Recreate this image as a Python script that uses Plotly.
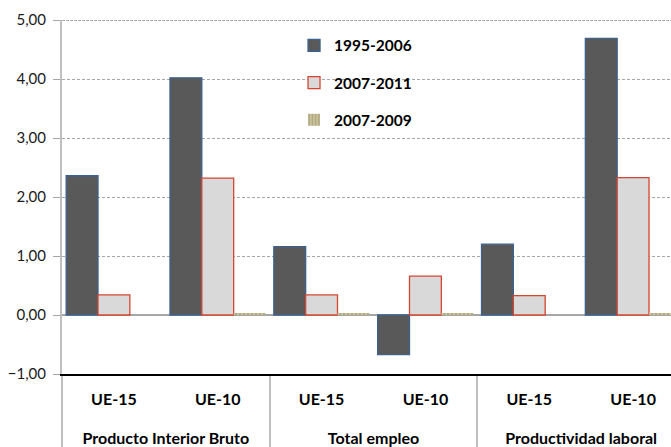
import plotly.graph_objects as go

# Indicator groups and regions (two-level category axis)
groups = ["Producto Interior Bruto", "Producto Interior Bruto",
          "Total empleo", "Total empleo",
          "Productividad laboral", "Productividad laboral"]
regions = ["UE-15", "UE-10", "UE-15", "UE-10", "UE-15", "UE-10"]

# Average annual growth rates (%)
p1995_2006 = [2.36, 4.02, 1.16, -0.67, 1.20, 4.69]
p2007_2011 = [0.34, 2.32, 0.34, 0.66, 0.33, 2.33]
p2007_2009 = [None, 0.03, 0.03, 0.03, None, 0.03]

y_ticks = [-1, 0, 1, 2, 3, 4, 5]

FONT = "Lato"

# Category labels: text drawn at 16px inside a slightly larger axis font so
# the group row (pushed down by a leading line break) sits lower.
span = "<span style='font-size:16px'>{}</span>"
group_labels = ["<br>" + span.format(g) for g in groups]
region_labels = [span.format(r) for r in regions]
x_cats = [group_labels, region_labels]

fig = go.Figure()
fig.add_trace(go.Bar(
    x=x_cats, y=p1995_2006, name="1995-2006", legendgroup="a",
    marker=dict(color="#595959", line=dict(color="#3C6290", width=1.3)),
))
fig.add_trace(go.Bar(
    x=x_cats, y=p2007_2011, name="2007-2011", legendgroup="b",
    marker=dict(color="#D9D9D9", line=dict(color="#D6452F", width=1.3)),
))
fig.add_trace(go.Bar(
    x=x_cats, y=p2007_2009, name="2007-2009", legendgroup="c",
    marker=dict(color="#C4BD97", line=dict(width=0),
                pattern=dict(shape="|", fgcolor="#8C8458", bgcolor="#C9C29C",
                             size=4, solidity=0.4)),
))

fig.update_layout(
    width=671, height=447,
    margin=dict(l=62, r=0, t=20, b=73),
    paper_bgcolor="white", plot_bgcolor="white",
    separators=",.",
    barmode="group", bargap=0.08, bargroupgap=0,
    font=dict(family=FONT, size=14, color="#000000"),
    showlegend=True,
    legend=dict(
        x=0.381, y=0.975, xanchor="left", yanchor="top",
        bgcolor="rgba(0,0,0,0)", traceorder="grouped", tracegroupgap=14,
        font=dict(family=FONT, size=15.5, color="#000000", weight="bold"),
    ),
    xaxis=dict(
        type="multicategory",
        range=[-0.5, 5.365],
        showline=True, linecolor="#000000", linewidth=1.5,
        ticks="", ticklabelstandoff=6,
        showgrid=False,
        showdividers=True, dividercolor="#BFBFBF", dividerwidth=1.5,
        tickfont=dict(family=FONT, size=19, color="#000000", weight="bold"),
    ),
    yaxis=dict(
        range=[-1, 5], tickvals=y_ticks, tickformat=".2f",
        showline=True, linecolor="#BFBFBF", linewidth=2,
        ticks="outside", ticklen=7, tickcolor="#A6A6A6", tickwidth=1,
        ticklabelstandoff=4,
        showgrid=True, gridcolor="#A6A6A6", gridwidth=1, griddash="3px,2px",
        zeroline=True, zerolinecolor="#A6A6A6", zerolinewidth=2,
        tickfont=dict(family=FONT, size=15, color="#1A1A1A"),
    ),
)

# Darker dashed frame line along the top of the plot area
fig.add_shape(type="line", xref="paper", yref="y", x0=0, x1=1, y0=5, y1=5,
              line=dict(color="#595959", width=1.2, dash="3px,1px"), layer="above")

fig.write_html("out.html")
